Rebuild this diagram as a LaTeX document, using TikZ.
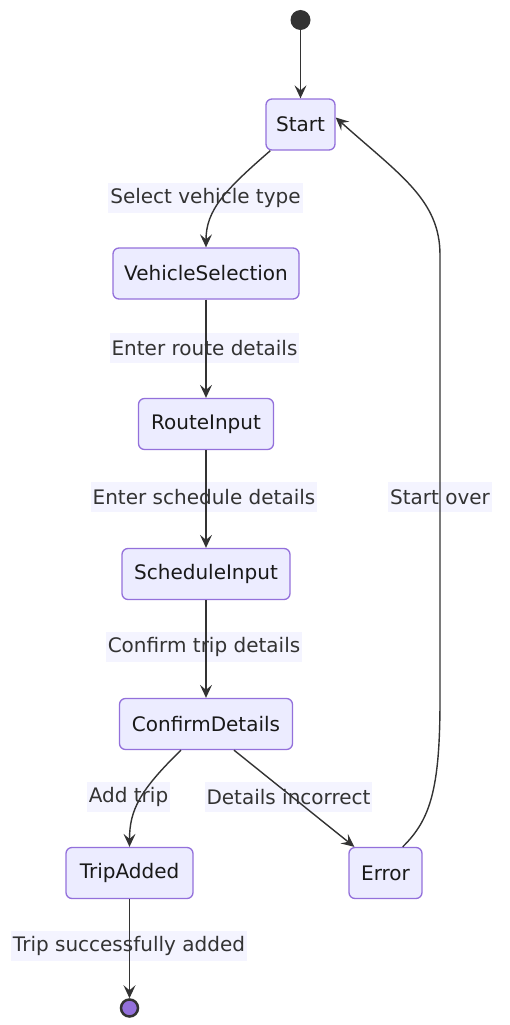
\documentclass[tikz,border=0pt]{standalone}
\usepackage{fontspec}
\setmainfont{DejaVu Sans}
\usetikzlibrary{arrows.meta,calc}
\definecolor{nodefill}{HTML}{ECECFF}
\definecolor{nodeline}{HTML}{9370DB}
\definecolor{edgecol}{HTML}{333333}
\definecolor{lblbg}{HTML}{F4F4FF}
\definecolor{txt}{HTML}{333333}
\begin{document}
\begin{tikzpicture}[x=1pt,y=-1pt,
  state/.style={draw=nodeline, fill=nodefill, line width=1.3pt, rounded corners=6pt,
    minimum height=51pt, inner sep=0pt, font=\fontsize{20}{24}\selectfont, text=black!90},
  lbl/.style={fill=lblbg, inner xsep=2pt, inner ysep=0pt, minimum height=30pt, font=\fontsize{20}{24}\selectfont, text=txt},
  edge/.style={draw=edgecol, line width=1.4pt, -{Stealth[length=13pt,width=12pt,inset=5pt]}}]
\useasboundingbox (0,0) rectangle (510,1025);
% states
\node[circle, fill=edgecol, minimum size=20pt, inner sep=0pt] (init) at (300.5,20) {};
\node[state, minimum width=69pt] (start) at (300.5,124.5) {Start};
\node[state, minimum width=186pt] (vs) at (206,273.5) {VehicleSelection};
\node[state, minimum width=135pt] (ri) at (206,424) {RouteInput};
\node[state, minimum width=168pt] (si) at (206,574) {ScheduleInput};
\node[state, minimum width=173pt] (cd) at (206,724) {ConfirmDetails};
\node[state, minimum width=127pt] (ta) at (129.5,873) {TripAdded};
\node[state, minimum width=73pt] (err) at (385.5,873) {Error};
\node[circle, draw=edgecol, line width=2.5pt, fill=nodeline, minimum size=17pt, inner sep=0pt] (fin) at (129.5,1008) {};
% labels
\node[lbl] (l1) at (205.5,198) {Select vehicle type};
\node[lbl] (l2) at (204.5,348) {Enter route details};
\node[lbl] (l3) at (204,497) {Enter schedule details};
\node[lbl] (l4) at (204,647) {Confirm trip details};
\node[lbl] (l5) at (128.5,797) {Add trip};
\node[lbl] (l6) at (288.5,797) {Details incorrect};
\node[lbl] (l7) at (440,497) {Start over};
\node[lbl] (l8) at (129,946) {Trip successfully added};
% edges
\draw[edge] (init) -- (start);
\draw[edge] ([xshift=5pt]start.south west) .. controls (225,190) and (206,210) .. (vs.north);
\draw[edge] (vs) -- (ri);
\draw[edge] (ri) -- (si);
\draw[edge] (si) -- (cd);
\draw[edge] ([xshift=-25pt]cd.south) .. controls (140,790) and (129.5,810) .. (ta.north);
\draw[edge] ([xshift=28pt]cd.south) -- ([xshift=6pt]err.north west);
\draw[edge] ([xshift=-20pt]err.north east) .. controls (430,820) and (440,790) .. (440,700) -- (440,255) .. controls (440,200) and (400,175) .. ([yshift=7pt]start.east);
\draw[edge] (ta) -- (fin);
\end{tikzpicture}
\end{document}
